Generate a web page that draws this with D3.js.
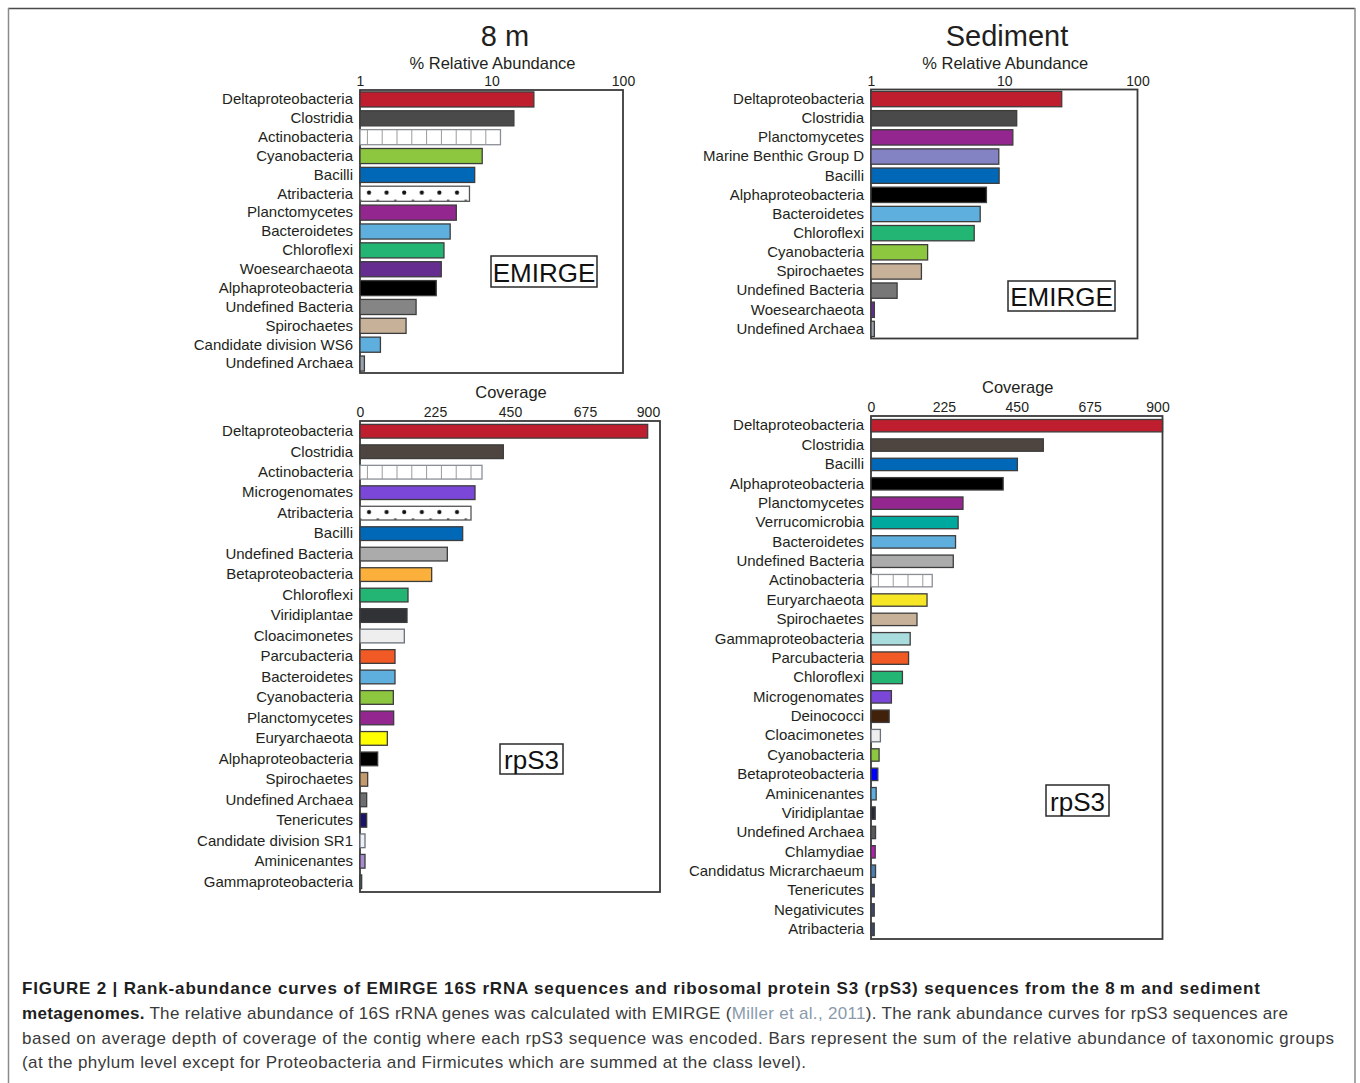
<!DOCTYPE html>
<html>
<head>
<meta charset="utf-8">
<script src="https://cdn.jsdelivr.net/npm/d3@7"></script>
<style>
  html, body { margin: 0; padding: 0; background: #fff; }
  svg { display: block; }
  text { font-family: "Liberation Sans", Arial, Helvetica, sans-serif; }
</style>
</head>
<body>
<svg id="fig" width="1360" height="1083"></svg>
<script>
// ---------------- data ----------------
// 8 m, EMIRGE 16S rRNA (% relative abundance)
const emirge8mTaxa = [
  "Deltaproteobacteria", "Clostridia", "Actinobacteria", "Cyanobacteria", "Bacilli",
  "Atribacteria", "Planctomycetes", "Bacteroidetes", "Chloroflexi", "Woesearchaeota",
  "Alphaproteobacteria", "Undefined Bacteria", "Spirochaetes", "Candidate division WS6",
  "Undefined Archaea"
];
const emirge8mAbundance = [21.0, 14.8, 11.7, 8.5, 7.45, 6.8, 5.4, 4.85, 4.35, 4.15, 3.8, 2.67, 2.24, 1.43, 1.08];

// Sediment, EMIRGE 16S rRNA (% relative abundance)
const emirgeSedTaxa = [
  "Deltaproteobacteria", "Clostridia", "Planctomycetes", "Marine Benthic Group D", "Bacilli",
  "Alphaproteobacteria", "Bacteroidetes", "Chloroflexi", "Cyanobacteria", "Spirochaetes",
  "Undefined Bacteria", "Woesearchaeota", "Undefined Archaea"
];
const emirgeSedAbundance = [27.0, 12.4, 11.6, 9.1, 9.15, 7.35, 6.6, 5.95, 2.66, 2.39, 1.57, 1.06, 1.06];

// 8 m, rpS3 (average coverage)
const rps38mTaxa = [
  "Deltaproteobacteria", "Clostridia", "Actinobacteria", "Microgenomates", "Atribacteria",
  "Bacilli", "Undefined Bacteria", "Betaproteobacteria", "Chloroflexi", "Viridiplantae",
  "Cloacimonetes", "Parcubacteria", "Bacteroidetes", "Cyanobacteria", "Planctomycetes",
  "Euryarchaeota", "Alphaproteobacteria", "Spirochaetes", "Undefined Archaea", "Tenericutes",
  "Candidate division SR1", "Aminicenantes", "Gammaproteobacteria"
];
const rps38mCoverage = [863, 430, 366, 345, 333, 308, 262, 215, 144, 141, 133, 105, 105, 100, 101, 82, 53, 23, 20, 20, 15, 15, 5];

// Sediment, rpS3 (average coverage)
const rps3SedTaxa = [
  "Deltaproteobacteria", "Clostridia", "Bacilli", "Alphaproteobacteria", "Planctomycetes",
  "Verrucomicrobia", "Bacteroidetes", "Undefined Bacteria", "Actinobacteria", "Euryarchaeota",
  "Spirochaetes", "Gammaproteobacteria", "Parcubacteria", "Chloroflexi", "Microgenomates",
  "Deinococci", "Cloacimonetes", "Cyanobacteria", "Betaproteobacteria", "Aminicenantes",
  "Viridiplantae", "Undefined Archaea", "Chlamydiae", "Candidatus Micrarchaeum", "Tenericutes",
  "Negativicutes", "Atribacteria"
];
const rps3SedCoverage = [900, 532, 452, 408, 284, 269, 261, 254, 189, 173, 142, 121, 116, 97, 63, 56, 29, 25, 21, 16, 13, 14, 13, 14, 10, 10, 10];

// axis ticks
const logTicks = [1, 10, 100];
const coverageTicks = [0, 225, 450, 675, 900];

// ---------------- styles ----------------
const taxonColor = {
  "Deltaproteobacteria": "#be1e2d",
  "Clostridia": "#4a4a4a",
  "Actinobacteria": "grid",
  "Cyanobacteria": "#8dc63f",
  "Bacilli": "#0068b7",
  "Atribacteria": "dots",
  "Planctomycetes": "#93278f",
  "Bacteroidetes": "#5eaede",
  "Chloroflexi": "#22b573",
  "Woesearchaeota": "#662d91",
  "Alphaproteobacteria": "#000000",
  "Undefined Bacteria": "#858585",
  "Spirochaetes": "#c7b299",
  "Candidate division WS6": "#5eaede",
  "Undefined Archaea": "#9aa3ad",
  "Marine Benthic Group D": "#8383c4",
  "Microgenomates": "#7a47d8",
  "Betaproteobacteria": "#fbb03b",
  "Viridiplantae": "#303236",
  "Cloacimonetes": "#eeeeee",
  "Parcubacteria": "#f15a24",
  "Euryarchaeota": "#ffff00",
  "Tenericutes": "#1b1464",
  "Candidate division SR1": "#eef0f8",
  "Aminicenantes": "#a98bd0",
  "Gammaproteobacteria": "#4a6a8a",
  "Verrucomicrobia": "#00a99d",
  "Deinococci": "#42210b",
  "Chlamydiae": "#b41fb4",
  "Candidatus Micrarchaeum": "#4a80b4",
  "Negativicutes": "#3a4a68"
};
const sedEmirgeColor = { "Undefined Bacteria": "#777777" };
const m8Rps3Color = {
  "Clostridia": "#4e4540", "Undefined Bacteria": "#ababab",
  "Spirochaetes": "#c49a6c", "Undefined Archaea": "#6d6e71"
};
const sedRps3Color = {
  "Clostridia": "#4e4540", "Undefined Bacteria": "#ababab",
  "Betaproteobacteria": "#0000ff", "Euryarchaeota": "#f7e625",
  "Gammaproteobacteria": "#a9dcdc", "Aminicenantes": "#5eaede",
  "Tenericutes": "#3a4a68", "Atribacteria": "#3a4a68",
  "Undefined Archaea": "#58595b", "Viridiplantae": "#262b33"
};

// ---------------- layout ----------------
const panels = [
  { id: "a", taxa: emirge8mTaxa, values: emirge8mAbundance, type: "log", ticks: logTicks,
    colors: {}, box: { x0: 360, x1: 623, y0: 90, y1: 373 }, pad: 0.2,
    title: "8 m", titleX: 505, axisTitle: "% Relative Abundance", axisTitleY: 69,
    tag: "EMIRGE", tagBox: { x: 491, y: 256, w: 106, h: 31 }, lastTickDx: 0 },
  { id: "b", taxa: emirgeSedTaxa, values: emirgeSedAbundance, type: "log", ticks: logTicks,
    colors: sedEmirgeColor, box: { x0: 871, x1: 1137.5, y0: 89.5, y1: 338.5 }, pad: 0.2,
    title: "Sediment", titleX: 1007, axisTitle: "% Relative Abundance", axisTitleY: 69,
    tag: "EMIRGE", tagBox: { x: 1008, y: 281, w: 107, h: 30 }, lastTickDx: 0 },
  { id: "c", taxa: rps38mTaxa, values: rps38mCoverage, type: "linear", ticks: coverageTicks,
    colors: m8Rps3Color, box: { x0: 360, x1: 660, y0: 421, y1: 892 }, pad: 0.33,
    axisTitle: "Coverage", axisTitleY: 398,
    tag: "rpS3", tagBox: { x: 500, y: 744, w: 63, h: 30 }, lastTickDx: -12 },
  { id: "d", taxa: rps3SedTaxa, values: rps3SedCoverage, type: "linear", ticks: coverageTicks,
    colors: sedRps3Color, box: { x0: 871, x1: 1162.5, y0: 416, y1: 939 }, pad: 0.36,
    axisTitle: "Coverage", axisTitleY: 393,
    tag: "rpS3", tagBox: { x: 1046, y: 785, w: 63, h: 31 }, lastTickDx: -5 }
];

const svg = d3.select("#fig");
const defs = svg.append("defs");

// outer figure frame
svg.append("line").attr("x1", 8).attr("x2", 1355).attr("y1", 8.5).attr("y2", 8.5)
  .attr("stroke", "#4a4a4a").attr("stroke-width", 1.5);
svg.append("line").attr("x1", 8.5).attr("x2", 8.5).attr("y1", 8).attr("y2", 1083)
  .attr("stroke", "#8a8a8a").attr("stroke-width", 1.5);
svg.append("line").attr("x1", 1355).attr("x2", 1355).attr("y1", 8).attr("y2", 1083)
  .attr("stroke", "#8a8a8a").attr("stroke-width", 1.5);

const ink = "#231f20";

panels.forEach(p => {
  const b = p.box;
  const x = p.type === "log"
    ? d3.scaleLog().domain([1, 100]).range([b.x0, b.x1])
    : d3.scaleLinear().domain([0, 900]).range([b.x0, b.x1]);
  const y = d3.scaleBand().domain(p.taxa).range([b.y0, b.y1]).paddingInner(p.pad).paddingOuter(p.pad / 2);
  const base = p.type === "log" ? 1 : 0;

  const g = svg.append("g").attr("class", "panel-" + p.id);

  // plot frame
  g.append("rect").attr("x", b.x0).attr("y", b.y0)
    .attr("width", b.x1 - b.x0).attr("height", b.y1 - b.y0)
    .attr("fill", "none").attr("stroke", "#3a3a3a").attr("stroke-width", 1.8);

  const rows = p.taxa.map((t, i) => ({ taxon: t, value: p.values[i], i }));
  const fillOf = d => p.colors[d.taxon] || taxonColor[d.taxon];

  // bars
  rows.forEach(d => {
    const c = fillOf(d);
    const bx = x(base), by = y(d.taxon), bw = x(d.value) - x(base), bh = y.bandwidth();
    let fill = c, stroke = "#3d3d3d";
    if (c === "grid") {
      const pid = `grid-${p.id}-${d.i}`;
      const pat = defs.append("pattern").attr("id", pid).attr("patternUnits", "userSpaceOnUse")
        .attr("x", bx).attr("y", by).attr("width", 14.8).attr("height", bh);
      pat.append("rect").attr("width", 14.8).attr("height", bh).attr("fill", "#fff");
      pat.append("line").attr("x1", 7.4).attr("x2", 7.4).attr("y1", 0).attr("y2", bh)
        .attr("stroke", "#9a9a9a").attr("stroke-width", 1);
      fill = `url(#${pid})`;
      stroke = "#8a8f96";
    } else if (c === "dots") {
      const pid = `dots-${p.id}-${d.i}`;
      const pat = defs.append("pattern").attr("id", pid).attr("patternUnits", "userSpaceOnUse")
        .attr("x", bx).attr("y", by).attr("width", 17.6).attr("height", bh);
      pat.append("rect").attr("width", 17.6).attr("height", bh).attr("fill", "#fff");
      pat.append("circle").attr("cx", 9).attr("cy", bh * 0.42).attr("r", 2.1).attr("fill", "#111");
      pat.append("line").attr("x1", 16.5).attr("x2", 19).attr("y1", bh - 0.8).attr("y2", bh - 0.8)
        .attr("stroke", "#111").attr("stroke-width", 1.3);
      pat.append("line").attr("x1", -1.1).attr("x2", 1.4).attr("y1", bh - 0.8).attr("y2", bh - 0.8)
        .attr("stroke", "#111").attr("stroke-width", 1.3);
      fill = `url(#${pid})`;
      stroke = "#555";
    } else if (c === "#eeeeee" || c === "#eef0f8") {
      stroke = "#6a717a";
    }
    g.append("rect").attr("x", bx).attr("y", by).attr("width", Math.max(bw, 1)).attr("height", bh)
      .attr("fill", fill).attr("stroke", stroke).attr("stroke-width", 1.3);
  });

  // category axis
  const yAxis = d3.axisLeft(y).tickSize(0).tickPadding(7);
  g.append("g").attr("transform", `translate(${b.x0},0)`).call(yAxis)
    .call(s => s.select(".domain").remove())
    .call(s => s.selectAll("text").attr("font-size", 15).attr("fill", ink)
      .attr("font-family", '"Liberation Sans", Arial, sans-serif'));

  // value axis on top
  const xAxis = d3.axisTop(x).tickValues(p.ticks).tickSize(0).tickPadding(4)
    .tickFormat(d3.format("d"));
  g.append("g").attr("transform", `translate(0,${b.y0})`).call(xAxis)
    .call(s => s.select(".domain").remove())
    .call(s => s.selectAll("text").attr("font-size", 14).attr("fill", ink)
      .attr("font-family", '"Liberation Sans", Arial, sans-serif'))
    .call(s => s.selectAll(".tick").filter((d, i, n) => i === n.length - 1)
      .select("text").attr("dx", p.lastTickDx));

  // axis title
  g.append("text").attr("x", (b.x0 + b.x1) / 2 + 1).attr("y", p.axisTitleY)
    .attr("text-anchor", "middle").attr("font-size", 16.5).attr("fill", ink).text(p.axisTitle);

  // panel title
  if (p.title) {
    g.append("text").attr("x", p.titleX).attr("y", 46).attr("text-anchor", "middle")
      .attr("font-size", 29).attr("fill", ink).text(p.title);
  }

  // method tag
  const tb = p.tagBox;
  g.append("rect").attr("x", tb.x).attr("y", tb.y).attr("width", tb.w).attr("height", tb.h)
    .attr("fill", "#fff").attr("stroke", "#2a2a2a").attr("stroke-width", 1.5);
  g.append("text").attr("x", tb.x + tb.w / 2).attr("y", tb.y + tb.h - 5.5)
    .attr("text-anchor", "middle").attr("font-size", 26).attr("fill", "#111").text(p.tag);
});

// ---------------- caption ----------------
const cap = svg.append("g").attr("font-size", 17);
const capX = 22;
cap.append("text").attr("x", capX).attr("y", 994).attr("font-weight", "bold").attr("fill", "#1f1f1f")
  .attr("textLength", 1238).attr("lengthAdjust", "spacing")
  .text("FIGURE 2 | Rank-abundance curves of EMIRGE 16S rRNA sequences and ribosomal protein S3 (rpS3) sequences from the 8\u2009m and sediment");

const l2 = cap.append("text").attr("x", capX).attr("y", 1019).attr("fill", "#3a3a3a")
  .attr("textLength", 1266).attr("lengthAdjust", "spacing");
l2.append("tspan").attr("font-weight", "bold").attr("fill", "#1f1f1f").text("metagenomes.");
l2.append("tspan").text(" The relative abundance of 16S rRNA genes was calculated with EMIRGE (");
l2.append("tspan").attr("fill", "#8a9aab").text("Miller et al., 2011");
l2.append("tspan").text("). The rank abundance curves for rpS3 sequences are");

cap.append("text").attr("x", capX).attr("y", 1044).attr("fill", "#3a3a3a")
  .attr("textLength", 1312).attr("lengthAdjust", "spacing")
  .text("based on average depth of coverage of the contig where each rpS3 sequence was encoded. Bars represent the sum of the relative abundance of taxonomic groups");
cap.append("text").attr("x", capX).attr("y", 1068).attr("fill", "#3a3a3a")
  .attr("textLength", 784).attr("lengthAdjust", "spacing")
  .text("(at the phylum level except for Proteobacteria and Firmicutes which are summed at the class level).");
</script>
</body>
</html>
